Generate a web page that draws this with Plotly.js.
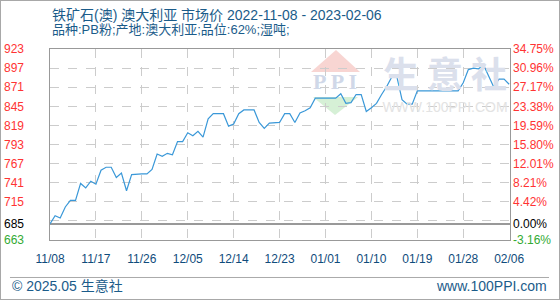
<!DOCTYPE html>
<html><head><meta charset="utf-8">
<script src="https://cdn.plot.ly/plotly-3.0.1.min.js"></script>
<style>
html,body{margin:0;padding:0;background:#fff;}
#wrap{position:relative;width:560px;height:300px;}
#chart{width:560px;height:300px;}
#frame{position:absolute;left:0;top:0;width:560px;height:300px;box-sizing:border-box;border:1px solid #a8a8a8;pointer-events:none;}
</style></head>
<body><div id="wrap"><div id="chart"></div><div id="frame"></div></div>
<script>
// ---- data ----
const dates = [
 '2022-11-08','2022-11-09','2022-11-10','2022-11-11','2022-11-12','2022-11-13','2022-11-14','2022-11-15','2022-11-16','2022-11-17',
 '2022-11-18','2022-11-19','2022-11-20','2022-11-21','2022-11-22','2022-11-23','2022-11-24','2022-11-25','2022-11-26','2022-11-27',
 '2022-11-28','2022-11-29','2022-11-30','2022-12-01','2022-12-02','2022-12-03','2022-12-04','2022-12-05','2022-12-06','2022-12-07',
 '2022-12-08','2022-12-09','2022-12-10','2022-12-11','2022-12-12','2022-12-13','2022-12-14','2022-12-15','2022-12-16','2022-12-17',
 '2022-12-18','2022-12-19','2022-12-20','2022-12-21','2022-12-22','2022-12-23','2022-12-24','2022-12-25','2022-12-26','2022-12-27',
 '2022-12-28','2022-12-29','2022-12-30','2022-12-31','2023-01-01','2023-01-02','2023-01-03','2023-01-04','2023-01-05','2023-01-06',
 '2023-01-07','2023-01-08','2023-01-09','2023-01-10','2023-01-11','2023-01-12','2023-01-13','2023-01-14','2023-01-15','2023-01-16',
 '2023-01-17','2023-01-18','2023-01-19','2023-01-20','2023-01-21','2023-01-22','2023-01-23','2023-01-24','2023-01-25','2023-01-26',
 '2023-01-27','2023-01-28','2023-01-29','2023-01-30','2023-01-31','2023-02-01','2023-02-02','2023-02-03','2023-02-04','2023-02-05',
 '2023-02-06'];
const prices = [
 685,696,693,708,717,717,740,734,743,739,
 758,762,762,748,754,730,752,753,753,753,
 759,780,777,781,779,797,797,809,805,811,
 803,828,835,835,835,818,821,835,840,840,
 840,823,815,822,823,823,835,835,823,836,
 839,843,856,856,856,856,856,862,849,850,
 861,861,838,843,849,861,872,885,885,854,
 848,848,866,866,866,866,866,866,866,866,
 866,877,895,897,896,901,886,871,882,882,875];
const BASE = 685;
const Y_MIN = 663, Y_MAX = 923;
const gridVals = [689,715,741,767,793,819,845,871,897];
const leftTickVals = [663,685,715,741,767,793,819,845,871,897,923];
const leftTickText = ['663','685','715','741','767','793','819','845','871','897','923'];
const rightTickText = ['-3.16%','0.00%','4.42%','8.21%','12.01%','15.80%','19.59%','23.38%','27.17%','30.96%','34.75%'];
const xTickVals = ['2022-11-08','2022-11-17','2022-11-26','2022-12-05','2022-12-14','2022-12-23','2023-01-01','2023-01-10','2023-01-19','2023-01-28','2023-02-06'];
const xTickText = ['11/08','11/17','11/26','12/05','12/14','12/23','01/01','01/10','01/19','01/28','02/06'];
const titleText = '铁矿石(澳) 澳大利亚 市场价 2022-11-08 - 2023-02-06';
const subTitleText = '品种:PB粉;产地:澳大利亚;品位:62%;湿吨;';

// ---- styling helpers ----
function colorFor(v){ return v > BASE ? '#ff3333' : (v < BASE ? '#33aa33' : '#000000'); }
const leftText = leftTickVals.map((v,i)=>'<span style="color:'+colorFor(v)+'">'+leftTickText[i]+'</span>');
const rightText = leftTickVals.map((v,i)=>'<span style="color:'+colorFor(v)+'">'+rightTickText[i]+'</span>');
const FONT = 'Liberation Sans, Arial, Noto Sans CJK SC, sans-serif';
const CJK = 'Liberation Sans, Arial, Noto Sans CJK SC, sans-serif';

const ghost = (ax)=>({x:dates, y:prices, yaxis:ax, type:'scatter', mode:'lines', line:{width:0,color:'rgba(0,0,0,0)'}, hoverinfo:'skip', showlegend:false});

const watermark = {
  x:[0.763,0.8587,0.9543,0.8587,0.6196], y:[0.845,0.845,0.845,0.69,0.822],
  text:['生','意','社','WWW.100PPI.COM','P P I'],
  xaxis:'x2', yaxis:'y5', type:'scatter', mode:'text', hoverinfo:'skip', showlegend:false,
  textfont:{family:['Noto Sans CJK SC','Noto Sans CJK SC','Noto Sans CJK SC','Liberation Sans','Liberation Serif'],
            size:[36,36,36,14,22], weight:['bold','bold','bold','normal','bold'],
            color:['#dbe0ec','#dbe0ec','#dbe0ec','#e3e3e3','#d0d8e8']}
};

const traces = [
  watermark,
  {x:dates, y:prices, type:'scatter', mode:'lines', line:{color:'#3a98d8', width:1.2}, hoverinfo:'x+y', showlegend:false},
  ghost('y2'), ghost('y3'), ghost('y4')
];

const layout = {
  width:560, height:300,
  margin:{l:50, r:50, t:49, b:60, pad:0},
  paper_bgcolor:'#ffffff', plot_bgcolor:'#ffffff',
  showlegend:false,
  font:{family:FONT, size:11},
  xaxis:{type:'date', range:['2022-11-08','2023-02-06 04:00'], tickmode:'array', tickvals:xTickVals, ticktext:xTickText,
         showgrid:true, gridcolor:'#cccccc', griddash:'dash', gridwidth:1, zeroline:false,
         showline:true, mirror:true, linecolor:'#999999', linewidth:1, ticks:'', ticklabelstandoff:8,
         tickfont:{family:FONT, size:12, color:'#0f4c7c'}},
  xaxis2:{overlaying:'x', range:[0,1], visible:false},
  yaxis:{range:[Y_MIN,Y_MAX], tickmode:'array', tickvals:gridVals, showticklabels:false,
         showgrid:true, gridcolor:'#cccccc', griddash:'dash', gridwidth:1, zeroline:false,
         showline:true, mirror:true, linecolor:'#999999', linewidth:1, ticks:''},
  yaxis2:{overlaying:'y', side:'left', range:[Y_MIN,Y_MAX], tickmode:'array', tickvals:leftTickVals, ticktext:leftText,
          showgrid:false, zeroline:false, showline:false, ticks:'', ticklabelstandoff:25,
          tickfont:{family:FONT, size:12}},
  yaxis3:{overlaying:'y', side:'right', range:[Y_MIN,Y_MAX], tickmode:'array', tickvals:leftTickVals, ticktext:rightText,
          showgrid:false, zeroline:false, showline:false, ticks:'', ticklabelstandoff:2,
          tickfont:{family:FONT, size:12}},
  yaxis4:{overlaying:'y', range:[Y_MIN,Y_MAX], tickmode:'array', tickvals:[BASE], showticklabels:false,
          showgrid:true, gridcolor:'#999999', gridwidth:1.5, zeroline:false, showline:false, ticks:''},
  yaxis5:{overlaying:'y', range:[0,1], visible:false},
  shapes:[
    {type:'path', xref:'paper', yref:'paper', path:'M0.6217,0.9948 L0.5674,0.8796 L0.6739,0.8796 Z', fillcolor:'#f8d5d2', line:{width:0}, layer:'below'},
    {type:'path', xref:'paper', yref:'paper', path:'M0.5717,0.7487 L0.6696,0.7487 L0.6196,0.6545 Z', fillcolor:'#d6f0d6', line:{width:0}, layer:'below'},
    {type:'line', xref:'paper', yref:'paper', x0:-0.087, x1:1.0848, y0:-0.1963, y1:-0.1963, line:{color:'#aaaaaa', width:1}}
  ],
  annotations:[
    {xref:'paper', yref:'paper', x:0, y:1.178, xanchor:'left', yanchor:'middle', showarrow:false, text:titleText,
     font:{family:CJK, size:14, color:'#1b5c8a'}},
    {xref:'paper', yref:'paper', x:0, y:1.0995, xanchor:'left', yanchor:'middle', showarrow:false, text:subTitleText,
     font:{family:CJK, size:13, color:'#1b5c8a'}},
    {xref:'paper', yref:'paper', x:-0.087, y:-0.2408, xanchor:'left', yanchor:'middle', showarrow:false, text:'© 2025.05 生意社',
     font:{family:CJK, size:14, color:'#1b5c8a'}},
    {xref:'paper', yref:'paper', x:1.0848, y:-0.2408, xanchor:'right', yanchor:'middle', showarrow:false, text:'www.100PPI.com',
     font:{family:CJK, size:14, color:'#1b5c8a'}}
  ]
};

Plotly.newPlot('chart', traces, layout, {displayModeBar:false, staticPlot:true});
</script></body></html>
